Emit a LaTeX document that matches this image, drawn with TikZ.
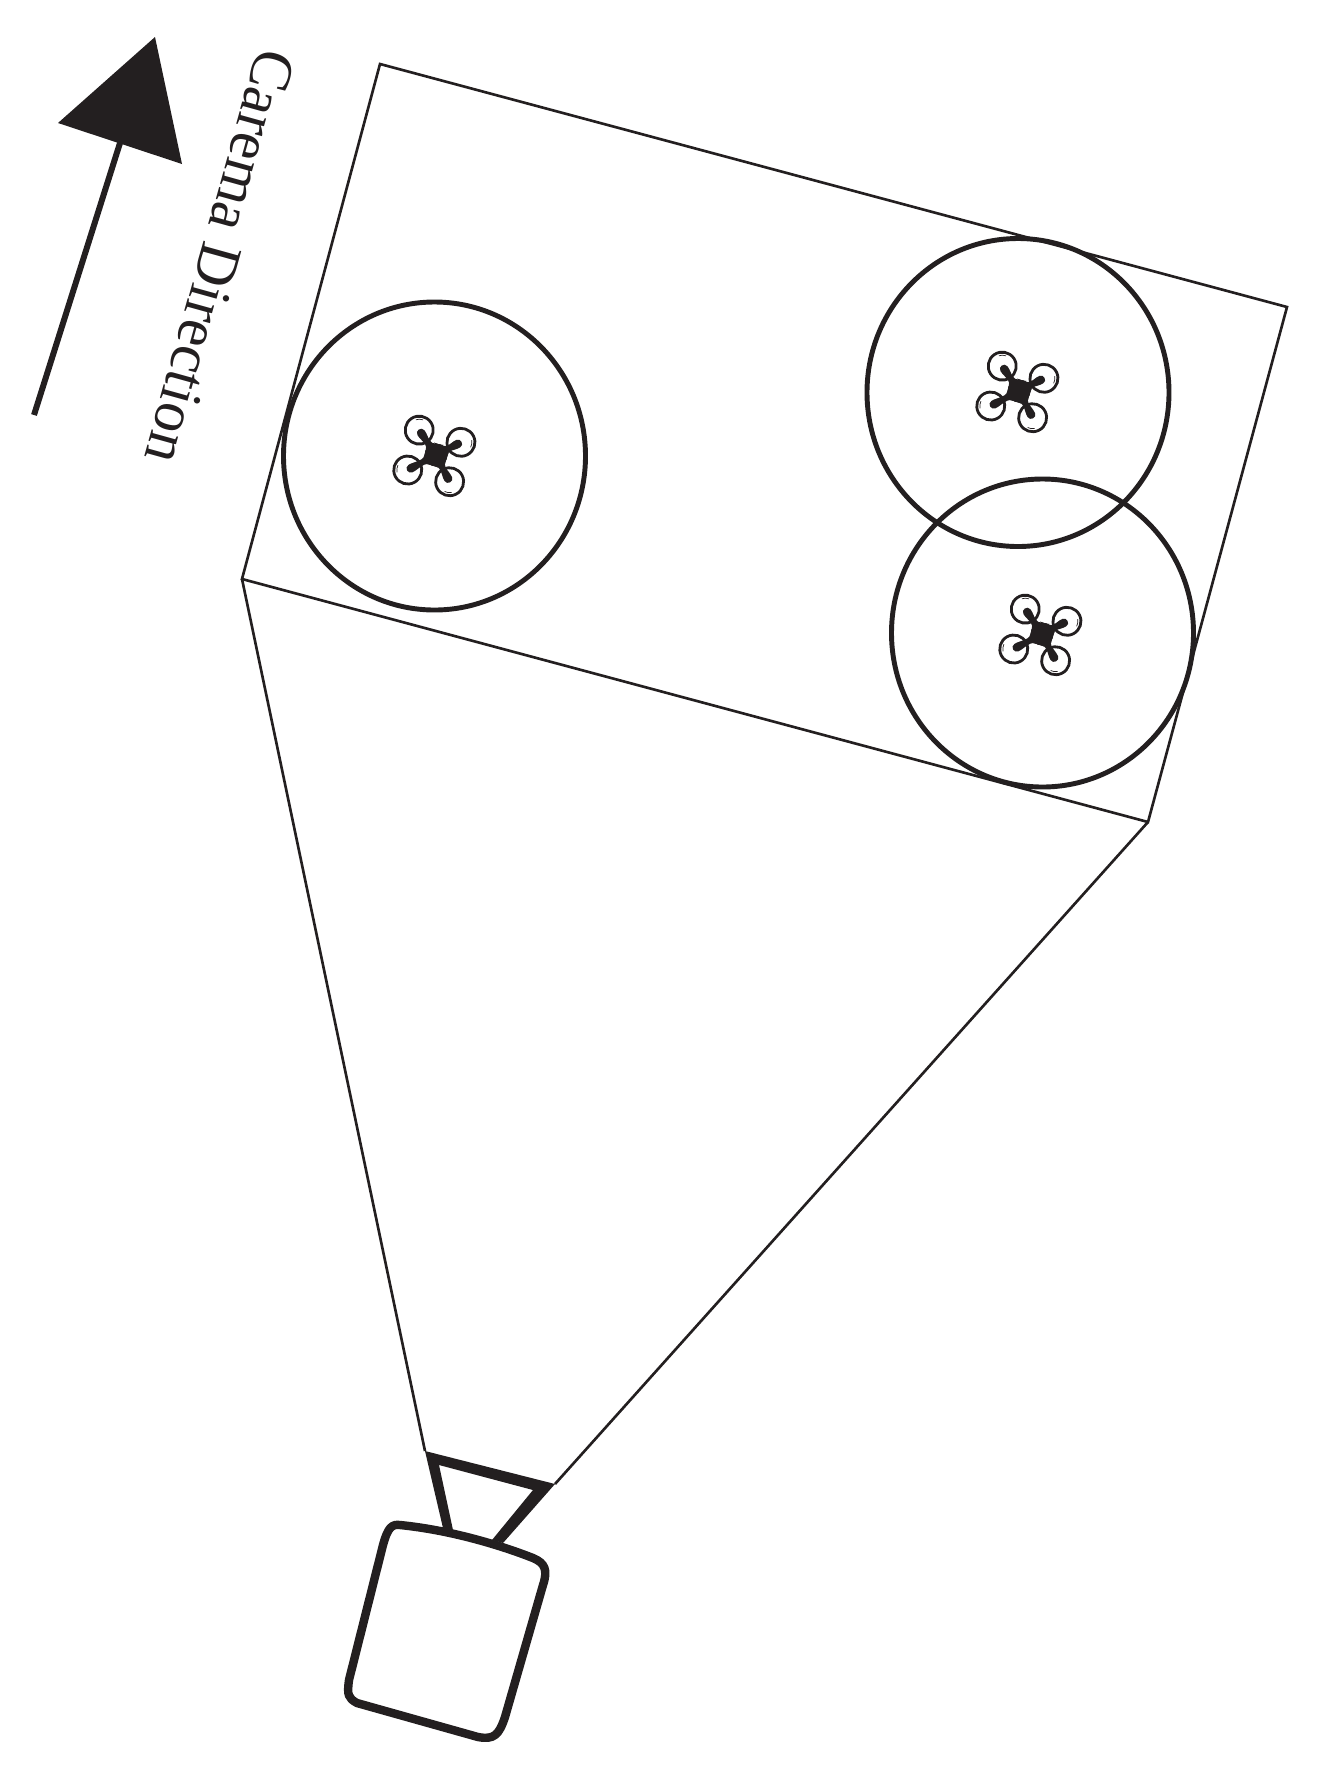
\documentclass[tikz,border=0pt]{standalone}
\usepackage{fontspec}
\setmainfont{Liberation Serif}
\definecolor{inkblack}{HTML}{231F20}
\tikzset{
    thinline/.style={draw=inkblack, line width=1.5pt, line join=miter},
    ringline/.style={draw=inkblack, line width=2.8pt},
    camline/.style={draw=inkblack, line width=4.8pt, line join=round},
    pics/drone/.style={code={
        \fill[inkblack] (0,0) circle (11.5);
        \foreach \ang/\len in {124/30, 27/28, -63/30, -152/32} {
            \begin{scope}[rotate=\ang]
                \fill[inkblack] (4,-12) .. controls (9,-7) and (11,-3) .. (15,-3)
                    .. controls (\len-10,-3) and (\len-8,-4.5) .. (\len-3,-4.2)
                    .. controls (\len+2,-4) and (\len+2,4) .. (\len-3,4.2)
                    .. controls (\len-8,4.5) and (\len-10,3) .. (15,3)
                    .. controls (11,3) and (9,7) .. (4,12) -- cycle;
                \draw[inkblack, line width=1.6pt] (\len,0) circle (14);
                \draw[inkblack, line width=0.4pt] (\len+10.5,3) arc (15:55:10.5);
            \end{scope}
        }
    }}
}
\begin{document}
\begin{tikzpicture}[x=0.02cm, y=-0.02cm]
    \useasboundingbox (0,0) rectangle (1323,1779);
    % field of view
    \coordinate (viewA) at (380,64);
    \coordinate (viewB) at (1287,307);
    \coordinate (viewC) at (1148,822);
    \coordinate (viewD) at (242,579);
    \coordinate (lensL) at (425,1451);
    \coordinate (lensR) at (555,1484);
    \draw[thinline] (viewA) -- (viewB) -- (viewC) -- (viewD) -- cycle;
    \draw[thinline] (viewD) -- (lensL);
    \draw[thinline] (viewC) -- (lensR);

    % drones and their rings
    \draw[ringline] (434.5,456) ellipse (151 and 154);
    \draw[ringline] (1018,392.5) ellipse (151 and 154);
    \draw[ringline] (1042.5,633) ellipse (151 and 154);
    \pic at (436,455) {drone};
    \pic at (1019,391) {drone};
    \pic at (1042,634) {drone};

    % camera
    \fill[inkblack] (lensL) -- (443,1528) -- (453,1530) -- (439,1465) -- (533,1490)
        -- (492,1540) -- (503,1543) -- (lensR) -- cycle;
    \draw[camline] (400,1525)
        .. controls (450,1530) and (500,1545) .. (533,1558)
        .. controls (545,1563) and (548,1570) .. (543,1585)
        -- (505,1717)
        .. controls (499,1735) and (494,1740) .. (478,1737)
        -- (357,1703)
        .. controls (348,1698) and (347,1695) .. (349,1680)
        -- (383,1545)
        .. controls (388,1527) and (392,1524) .. (400,1525) -- cycle;

    % moving direction
    \coordinate (arrowTail) at (34,415);
    \coordinate (arrowBase) at (120,143);
    \draw[inkblack, line width=3.4pt] (arrowTail) -- (arrowBase);
    \fill[inkblack] (155,37) -- (58,123) -- (182,164) -- cycle;
    \node[inkblack, rotate=-105.5, font=\fontsize{34}{34}\selectfont, inner sep=0pt] (dirlabel) at (220,257) {Carema Direction};
\end{tikzpicture}
\end{document}
